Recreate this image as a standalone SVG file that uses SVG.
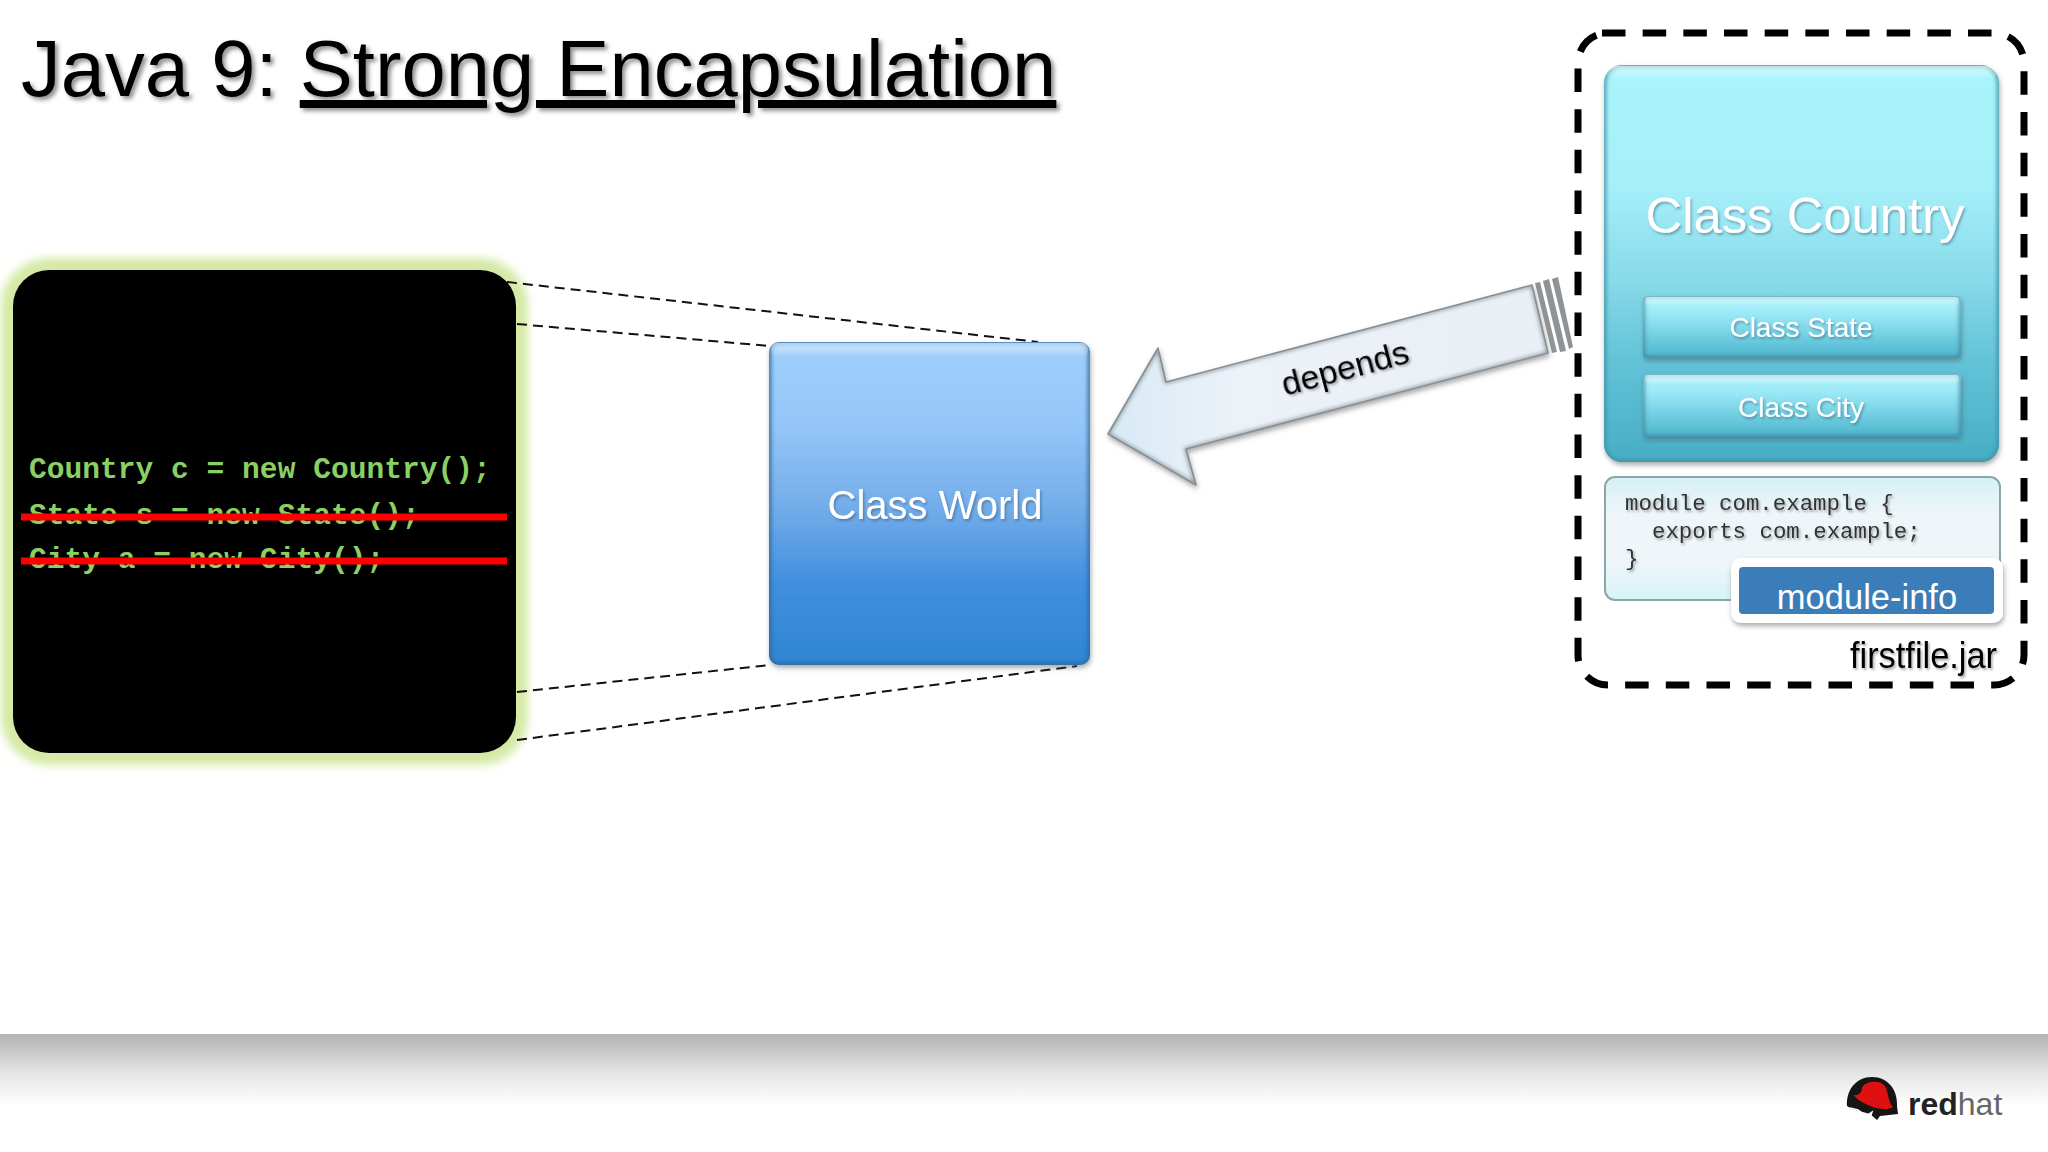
<svg xmlns="http://www.w3.org/2000/svg" width="2048" height="1152" viewBox="0 0 2048 1152">
  <style>
    .sans { font-family: "Liberation Sans", Arial, sans-serif; }
    .mono { font-family: "Liberation Mono", "Courier New", monospace; }
    .white { fill: #ffffff; filter: url(#softText); text-anchor: middle; }
    .code { fill: #8ad063; font-size: 29.6px; font-weight: bold; }
    .mod { fill: #333333; font-size: 22.4px; filter: url(#softText2); }
    .strike { stroke: #ff0000; stroke-width: 7; }
    .thin { fill: none; stroke: #111111; stroke-width: 2; stroke-dasharray: 10 6; }
    .stripe { fill: #8f9396; }
    .edge { fill: none; filter: url(#edgeBlur); }
  </style>
  <defs>
    <linearGradient id="world" x1="0" y1="0" x2="0" y2="1">
      <stop offset="0" stop-color="#a0cffb"/><stop offset="0.25" stop-color="#95c6f8"/><stop offset="0.5" stop-color="#75aeea"/><stop offset="0.75" stop-color="#418fdf"/><stop offset="1" stop-color="#2f85d2"/>
    </linearGradient>
    <linearGradient id="country" x1="0" y1="0" x2="0" y2="1">
      <stop offset="0" stop-color="#a9f4fb"/><stop offset="0.3" stop-color="#a6f0fa"/><stop offset="0.55" stop-color="#86d9e8"/><stop offset="0.75" stop-color="#62c2d8"/><stop offset="1" stop-color="#46aec4"/>
    </linearGradient>
    <linearGradient id="sub" x1="0" y1="0" x2="0" y2="1">
      <stop offset="0" stop-color="#b4f5fc"/><stop offset="0.3" stop-color="#99e8f6"/><stop offset="1" stop-color="#4bb4cc"/>
    </linearGradient>
    <linearGradient id="mod" x1="0" y1="0" x2="0" y2="1">
      <stop offset="0" stop-color="#d6f0f3"/><stop offset="0.3" stop-color="#eef6fa"/><stop offset="0.7" stop-color="#eef6fa"/><stop offset="1" stop-color="#d6f3f6"/>
    </linearGradient>
    <linearGradient id="arrow" x1="0" y1="0" x2="1" y2="0">
      <stop offset="0" stop-color="#d8eaf5"/><stop offset="0.3" stop-color="#edf2f8"/><stop offset="1" stop-color="#eaeff6"/>
    </linearGradient>
    <linearGradient id="footer" x1="0" y1="0" x2="0" y2="1">
      <stop offset="0" stop-color="#b5b5b7"/><stop offset="0.12" stop-color="#bdbdbf"/><stop offset="0.55" stop-color="#e6e6e7"/><stop offset="1" stop-color="#ffffff"/>
    </linearGradient>
    <linearGradient id="hi" x1="0" y1="0" x2="0" y2="1">
      <stop offset="0" stop-color="#ffffff" stop-opacity="0.55"/><stop offset="1" stop-color="#ffffff" stop-opacity="0"/>
    </linearGradient>
    <clipPath id="clipWorld"><rect x="769" y="342" width="321" height="323" rx="10"/></clipPath>
    <clipPath id="clipCountry"><rect x="1604" y="65" width="395" height="397" rx="18"/></clipPath>
    <clipPath id="clipState"><rect x="1643" y="296" width="318" height="62" rx="4"/></clipPath>
    <clipPath id="clipCity"><rect x="1643" y="374" width="318" height="63" rx="4"/></clipPath>
    <clipPath id="clipArrow"><path d="M1108 434L1158 348L1166 382L1532 285L1548 353L1186 449L1196 485Z"/></clipPath>
    <filter id="edgeBlur" x="-10%" y="-10%" width="120%" height="120%">
      <feGaussianBlur stdDeviation="2"/>
    </filter>
    <filter id="shadow" x="-10%" y="-10%" width="120%" height="120%">
      <feDropShadow dx="1" dy="3" stdDeviation="2.5" flood-color="#555555" flood-opacity="0.5"/>
    </filter>
    <filter id="softText" x="-10%" y="-20%" width="120%" height="150%">
      <feDropShadow dx="1.5" dy="2" stdDeviation="1.2" flood-color="#204060" flood-opacity="0.4"/>
    </filter>
    <filter id="softText2" x="-10%" y="-20%" width="120%" height="150%">
      <feDropShadow dx="1.5" dy="2" stdDeviation="1.2" flood-color="#333333" flood-opacity="0.4"/>
    </filter>
    <filter id="titleShadow" x="-5%" y="-20%" width="110%" height="150%">
      <feDropShadow dx="3" dy="3" stdDeviation="2" flood-color="#444444" flood-opacity="0.6"/>
    </filter>
    <filter id="glow" x="-10%" y="-10%" width="120%" height="120%">
      <feGaussianBlur stdDeviation="4"/>
    </filter>
  </defs>

  <rect width="2048" height="1152" fill="#ffffff"/>

  <g id="title">
    <text class="sans" x="21" y="96" font-size="79.6" fill="#000000" filter="url(#titleShadow)">Java 9: <tspan text-decoration="underline" style="text-decoration-skip-ink:none">Strong Encapsulation</tspan></text>
  </g>

  <g id="footer-band">
    <rect x="0" y="1034" width="2048" height="72" fill="url(#footer)"/>
  </g>

  <g id="code-panel">
    <rect x="13" y="270" width="503" height="483" rx="36" fill="#d6e9a6" stroke="#d6e9a6" stroke-width="24" filter="url(#glow)"/>
    <rect x="13" y="270" width="503" height="483" rx="36" fill="#000000"/>
    <text class="mono code" x="29" y="478">Country c = new Country();</text>
    <text class="mono code" x="29" y="524">State s = new State();</text>
    <text class="mono code" x="29" y="568">City a = new City();</text>
    <line class="strike" x1="21" y1="517" x2="507" y2="517"/>
    <line class="strike" x1="21" y1="561" x2="507" y2="561"/>
  </g>

  <g id="connectors">
    <path class="thin" d="M507 282L1038 342"/>
    <path class="thin" d="M517 324L770 346"/>
    <path class="thin" d="M517 692L770 665"/>
    <path class="thin" d="M517 740L1077 666"/>
    <g id="depends-arrow">
      <path d="M1108 434L1158 348L1166 382L1532 285L1548 353L1186 449L1196 485Z" fill="url(#arrow)" stroke="#8a9094" stroke-width="1.6" stroke-linejoin="round" filter="url(#shadow)"/>
      <path class="edge" clip-path="url(#clipArrow)" d="M1108 434L1158 348L1166 382L1532 285L1548 353L1186 449L1196 485Z" stroke="#7f8c96" stroke-width="3"/>
      <path class="stripe" d="M1535 283L1540 282L1557 352L1552 353Z"/>
      <path class="stripe" d="M1543 281L1549 279L1566 351L1560 352Z"/>
      <path class="stripe" d="M1552 279L1558 277L1573 347L1569 349Z"/>
      <text class="sans" font-size="34" fill="#000000" filter="url(#softText2)" transform="translate(1285 396) rotate(-15)">depends</text>
    </g>
  </g>

  <g id="class-world">
    <rect x="769" y="342" width="321" height="323" rx="10" fill="url(#world)" filter="url(#shadow)"/>
    <rect class="edge" clip-path="url(#clipWorld)" x="769" y="342" width="321" height="323" rx="10" stroke="#2c679f" stroke-width="4"/>
    <rect x="771" y="343" width="317" height="14" rx="6" fill="url(#hi)"/>
    <text class="sans white" x="935" y="519" font-size="40">Class World</text>
  </g>

  <g id="jar">
    <path d="M1602 33H1994A30 30 0 0 1 2024 63V655A30 30 0 0 1 1994 685H1608A30 30 0 0 1 1578 655V63A30 30 0 0 1 1608 33Z" fill="none" stroke="#000000" stroke-width="7" stroke-dasharray="23.5 17.17"/>
    <text class="sans" x="1850" y="668" font-size="37" fill="#000000" filter="url(#softText2)" textLength="147" lengthAdjust="spacingAndGlyphs">firstfile.jar</text>
  </g>

  <g id="class-country">
    <rect x="1604" y="65" width="395" height="397" rx="18" fill="url(#country)" filter="url(#shadow)"/>
    <rect class="edge" clip-path="url(#clipCountry)" x="1604" y="65" width="395" height="397" rx="18" stroke="#3f8fa3" stroke-width="4"/>
    <rect x="1606" y="66" width="391" height="14" rx="8" fill="url(#hi)"/>
    <text class="sans white" x="1805" y="233" font-size="50.8">Class Country</text>
  </g>

  <g id="class-state">
    <rect x="1643" y="296" width="318" height="62" rx="4" fill="url(#sub)" filter="url(#shadow)"/>
    <rect class="edge" clip-path="url(#clipState)" x="1643" y="296" width="318" height="62" rx="4" stroke="#357f94" stroke-width="3"/>
    <rect x="1645" y="297" width="314" height="9" rx="3" fill="url(#hi)"/>
    <text class="sans white" x="1801" y="337" font-size="28">Class State</text>
  </g>

  <g id="class-city">
    <rect x="1643" y="374" width="318" height="63" rx="4" fill="url(#sub)" filter="url(#shadow)"/>
    <rect class="edge" clip-path="url(#clipCity)" x="1643" y="374" width="318" height="63" rx="4" stroke="#357f94" stroke-width="3"/>
    <rect x="1645" y="375" width="314" height="9" rx="3" fill="url(#hi)"/>
    <text class="sans white" x="1801" y="417" font-size="28">Class City</text>
  </g>

  <g id="module-descriptor">
    <rect x="1605" y="477" width="395" height="123" rx="10" fill="url(#mod)" stroke="#8ba6aa" stroke-width="2"/>
    <text class="mono mod" x="1625" y="510">module com.example {</text>
    <text class="mono mod" x="1652" y="538">exports com.example;</text>
    <text class="mono mod" x="1625" y="565">}</text>
  </g>

  <g id="module-info">
    <rect x="1731" y="558" width="272" height="65" rx="10" fill="#ffffff" filter="url(#shadow)"/>
    <rect x="1739" y="567" width="255" height="47" rx="4" fill="#3b7db8"/>
    <text class="sans" x="1867" y="609" font-size="34.5" fill="#ffffff" text-anchor="middle">module-info</text>
  </g>

  <g id="redhat-logo">
    <path d="M1847 1106C1846 1090 1856 1077 1872 1077C1888 1077 1898 1090 1897 1106L1898 1114L1880 1116L1877 1120L1870 1114L1852 1109Z" fill="#151515"/>
    <path d="M1853 1095C1858 1096 1862 1093 1862 1088C1864 1081 1880 1079 1885 1086C1889 1094 1888 1102 1893 1107C1886 1112 1866 1108 1853 1095Z" fill="#e01010"/>
    <path d="M1850 1108L1858 1110L1866 1116L1872 1112L1870 1118" fill="none" stroke="#ffffff" stroke-width="1.5"/>
    <text class="sans" x="1908" y="1115" font-size="32" fill="#666666"><tspan font-weight="bold" fill="#222222">red</tspan>hat</text>
  </g>
</svg>
